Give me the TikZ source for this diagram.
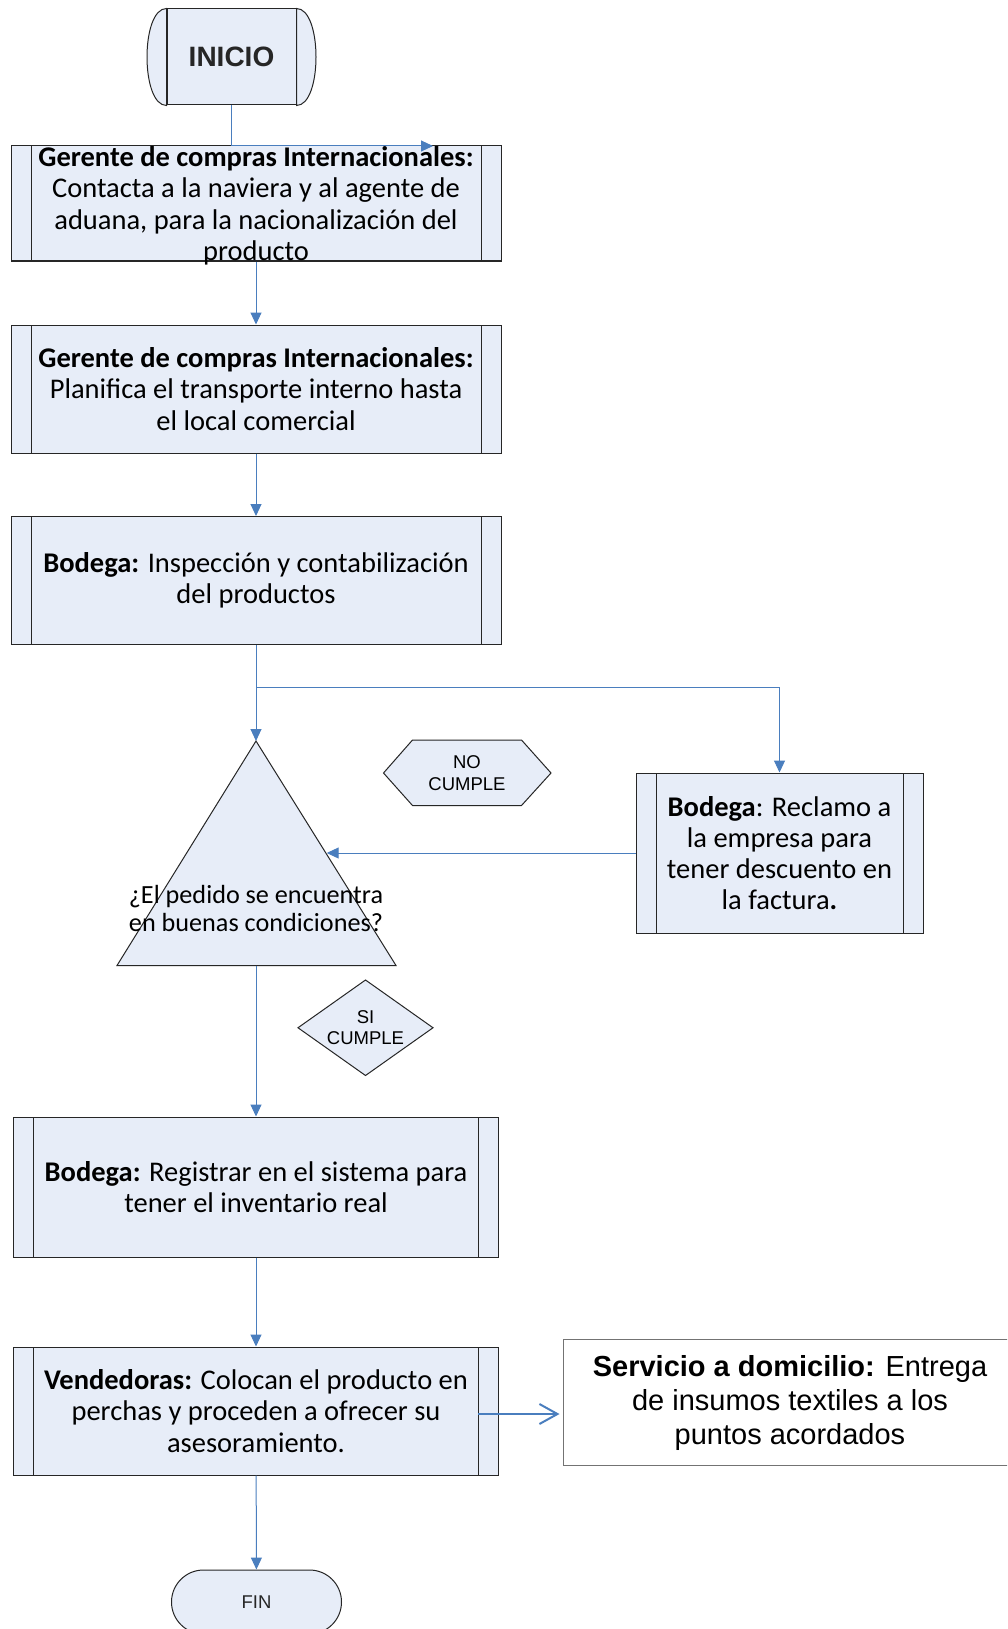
\documentclass[tikz,border=0pt]{standalone}
\usepackage{fontspec}
\setmainfont{Carlito}
\newfontfamily\arial{Liberation Sans}
\usetikzlibrary{calc,arrows.meta,shapes.misc}
\tikzset{>={Triangle[length=12pt,width=11pt]}}
\definecolor{fondo}{RGB}{231,237,248}
\definecolor{azul}{RGB}{74,126,190}
\colorlet{borde}{black!85}
\tikzstyle{proceso}=[draw=borde,fill=fondo,line width=1,inner sep=0,align=center,
  font=\fontsize{28.5}{31.2}\selectfont,
  path picture={\draw[borde,line width=1]
    ([xshift=20]path picture bounding box.north west) -- ([xshift=20]path picture bounding box.south west)
    ([xshift=-20]path picture bounding box.north east) -- ([xshift=-20]path picture bounding box.south east);}]
\tikzstyle{flecha}=[->,azul,line width=1]
\tikzstyle{forma}=[borde,fill=fondo,line width=1]
\tikzstyle{etiqueta}=[align=center,inner sep=0,font=\arial\fontsize{18.5}{21.5}\selectfont]

\begin{document}
\begin{tikzpicture}[x=1pt,y=-1pt]
  \fill[white] (0,0) rectangle (1007,1629);
  \clip (0,0) rectangle (1007,1629);
  \useasboundingbox (0,0) rectangle (1007,1629);

  % INICIO
  \node[forma,draw,minimum width=129,minimum height=96,inner sep=0,
        font=\arial\bfseries\fontsize{28}{34}\selectfont] (inicio) at (231.5,57) {INICIO};
  \draw[forma] (inicio.north east) .. controls +(26,0) and +(26,0) .. (inicio.south east) -- cycle;
  \draw[forma] (inicio.north west) .. controls +(-26,0) and +(-26,0) .. (inicio.south west) -- cycle;

  % PROCESOS
  \node[proceso,minimum width=490,minimum height=115,text depth=0pt] (gerente1) at (256,203.5)
    {\textbf{Gerente de compras Internacionales:}\\Contacta a la naviera y al agente de\\aduana, para la nacionalización del\\producto};
  \node[proceso,minimum width=490,minimum height=128] (gerente2) at (256,389)
    {\textbf{Gerente de compras Internacionales:}\\Planifica el transporte interno hasta\\el local comercial};
  \node[proceso,minimum width=490,minimum height=128] (bodega1) at (256,580.5)
    {\textbf{Bodega:} Inspección y contabilización\\del productos};
  \node[proceso,minimum width=287,minimum height=160] (reclamo) at (779.5,853)
    {\textbf{Bodega}: Reclamo a\\la empresa para\\tener descuento en\\la factura\textbf{.}};
  \node[proceso,minimum width=485.5,minimum height=140] (registro) at (256,1187)
    {\textbf{Bodega:} Registrar en el sistema para\\tener el inventario real};
  \node[proceso,minimum width=485.5,minimum height=128] (vendedoras) at (256,1411)
    {\textbf{Vendedoras:} Colocan el producto en\\perchas y proceden a ofrecer su\\asesoramiento.};

  % DECISION
  \coordinate (vertice) at (256,741);
  \coordinate (baseder) at (396,965.5);
  \coordinate (baseizq) at (117,965.5);
  \coordinate (base) at (256,965.5);
  \coordinate (lado) at ($(vertice)!.505!(baseder)$);
  \draw[forma] (vertice) -- (baseder) -- (baseizq) -- cycle;
  \node[align=center,inner sep=0,font=\fontsize{26.2}{28.5}\selectfont] (pregunta) at (256,908.5)
    {¿El pedido se encuentra\\en buenas condiciones?};

  % ETIQUETAS
  \draw[forma] (383.5,773) -- (412.5,740) -- (521.5,740) -- (551,773) -- (521.5,805.5) -- (412.5,805.5) -- cycle;
  \node[etiqueta] (nocumple) at (467,773) {NO\\CUMPLE};
  \draw[forma] (298,1027.75) -- (365.5,980) -- (433,1027.75) -- (365.5,1075.5) -- cycle;
  \node[etiqueta] (sicumple) at (365.5,1027.75) {SI\\CUMPLE};

  % SERVICIO
  \node[draw=black!55,fill=white,line width=1,minimum width=454,minimum height=126,inner sep=0,
        align=center,font=\arial\fontsize{29}{34}\selectfont] (servicio) at (790,1402.5)
    {\textbf{Servicio a domicilio:} Entrega\\de insumos textiles a los\\puntos acordados};

  % FIN
  \node[forma,draw,rounded rectangle,minimum width=170,minimum height=64,inner sep=0,
        font=\arial\fontsize{18.5}{22}\selectfont] (fin) at (256.5,1602) {FIN};

  % CONECTORES
  \coordinate (llegada) at (433,146);
  \coordinate (rama) at (256,687);
  \draw[flecha] (inicio.south) |- (llegada);
  \draw[flecha] (gerente1) -- (gerente2);
  \draw[flecha] (gerente2) -- (bodega1);
  \draw[flecha] (bodega1) -- (vertice);
  \draw[flecha] (rama) -| (reclamo.north);
  \draw[flecha] (reclamo.west) -- (reclamo.west -| lado);
  \draw[flecha] (base) -- (registro);
  \draw[flecha] (registro) -- (vendedoras);
  \draw[flecha] (vendedoras) -- (fin);
  \draw[azul,line width=2,-{Straight Barb[length=18pt,width=20pt]}]
    ([xshift=-21,yshift=-3]vendedoras.east) -- ([xshift=-3,yshift=-3]vendedoras.east -| servicio.west);
\end{tikzpicture}
\end{document}
